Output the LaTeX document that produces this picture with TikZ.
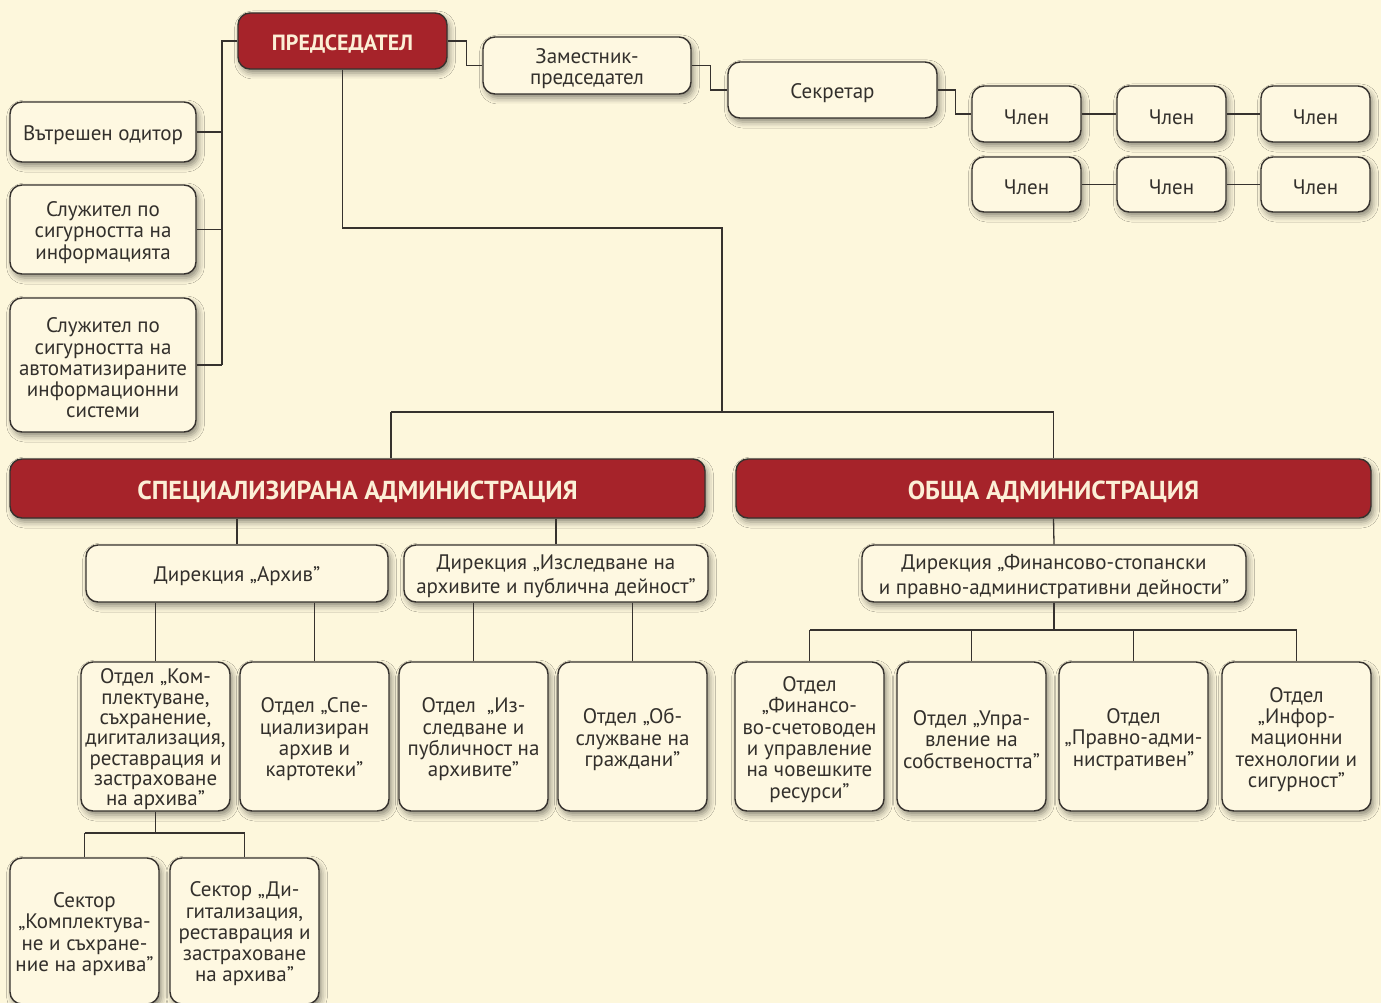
\documentclass[tikz,border=0pt]{standalone}
\usepackage{fontspec}
\setmainfont{PT Sans}
\usetikzlibrary{shadows.blur,calc}
\definecolor{bg}{HTML}{FDF7DC}
\definecolor{boxfill}{HTML}{FEF8E1}
\definecolor{redbox}{HTML}{A6232A}
\definecolor{titletxt}{HTML}{FCEFD6}
\definecolor{ink}{HTML}{36322E}
\definecolor{txt}{HTML}{33302C}
% box drawn from its corners; its text set 3px lower than the centre
\newcommand{\mybox}[7]{%
  \node[#6, minimum width={#4-#2}, minimum height={#5-#3}] (#1) at ({(#2+#4)/2},{(#3+#5)/2}) {};
  \node[#6 text] (#1-t) at ([yshift=-3pt]#1.center) {#7};}
\begin{document}
\begin{tikzpicture}[x=1pt,y=-1pt,
  base/.style={rectangle, rounded corners=12pt, draw=ink, line width=1.4pt, inner sep=0pt,
    blur shadow={shadow xshift=2.5pt, shadow yshift=-4pt, shadow blur radius=6pt, shadow opacity=45}},
  plain/.style={base, fill=boxfill},
  tight/.style={plain},
  dir/.style={plain},
  redb/.style={base, fill=redbox},
  redp/.style={redb},
  plain text/.style={inner sep=0pt, align=center, text=txt, font=\fontsize{21}{21.3}\selectfont},
  tight text/.style={plain text, font=\fontsize{21}{20.3}\selectfont},
  dir text/.style={plain text, font=\fontsize{21}{24.5}\selectfont},
  redb text/.style={inner sep=0pt, align=center, text=titletxt, font=\bfseries\fontsize{26}{27}\selectfont},
  redp text/.style={redb text, font=\bfseries\fontsize{22}{24}\selectfont},
  conn/.style={draw=ink, line width=1.3pt}]
\useasboundingbox (0,0) rectangle (1381,1003);
\fill[bg] (0,0) rectangle (1381,1003);
\clip (0,0) rectangle (1381,1003);

% top row
\mybox{pred}{238}{13}{447}{69}{redp}{ПРЕДСЕДАТЕЛ}
\mybox{zam}{483}{37}{691}{94}{plain}{Заместник-\\председател}
\mybox{sek}{728}{62}{937}{118}{plain}{Секретар}
\mybox{c1}{972}{86}{1081}{142}{plain}{Член}
\mybox{c2}{1117}{86}{1226}{142}{plain}{Член}
\mybox{c3}{1261}{86}{1370}{142}{plain}{Член}
\mybox{c4}{972}{157}{1081}{212}{plain}{Член}
\mybox{c5}{1117}{157}{1226}{212}{plain}{Член}
\mybox{c6}{1261}{157}{1370}{212}{plain}{Член}

% left column
\mybox{aud}{10}{102}{196}{162}{plain}{Вътрешен одитор}
\mybox{inf}{10}{185}{196}{274}{plain}{Служител по\\сигурността на\\информацията}
\mybox{ais}{10}{298}{196}{432}{plain}{Служител по\\сигурността на\\автоматизираните\\информационни\\системи}

% administrations
\mybox{spec}{10}{459}{705}{518}{redb}{СПЕЦИАЛИЗИРАНА АДМИНИСТРАЦИЯ}
\mybox{obsh}{736}{459}{1371}{518}{redb}{ОБЩА АДМИНИСТРАЦИЯ}

% directorates
\mybox{arh}{86}{545}{388}{602}{dir}{Дирекция „Архив”}
\mybox{izs}{404}{545}{708}{602}{dir}{Дирекция „Изследване на\\архивите и публична дейност”}
\mybox{fin}{862}{545}{1246}{602}{dir}{Дирекция „Финансово-стопански\\и правно-административни дейности”}

% departments
\mybox{o1}{81}{662}{230}{811}{tight}{Отдел „Ком-\\плектуване,\\съхранение,\\дигитализация,\\реставрация и\\застраховане\\на архива”}
\mybox{o2}{240}{662}{389}{811}{plain}{Отдел „Спе-\\циализиран\\архив и\\картотеки”}
\mybox{o3}{399}{662}{548}{811}{plain}{Отдел \ „Из-\\следване и\\публичност на\\архивите”}
\mybox{o4}{558}{662}{707}{811}{plain}{Отдел „Об-\\служване на\\граждани”}
\mybox{o5}{735}{662}{884}{811}{plain}{Отдел\\„Финансо-\\во-счетоводен\\и управление\\на човешките\\ресурси”}
\mybox{o6}{897}{662}{1046}{811}{plain}{Отдел „Упра-\\вление на\\собствеността”}
\mybox{o7}{1059}{662}{1208}{811}{plain}{Отдел\\„Правно-адми-\\нистративен”}
\mybox{o8}{1222}{662}{1371}{811}{plain}{Отдел\\„Инфор-\\мационни\\технологии и\\сигурност”}

% sectors (cut by the lower edge)
\mybox{s1}{10}{858}{159}{1004}{plain}{Сектор\\„Комплектува-\\не и съхране-\\ние на архива”}
\mybox{s2}{170}{858}{319}{1004}{plain}{Сектор „Ди-\\гитализация,\\реставрация и\\застраховане\\на архива”}

% junction coordinates
\coordinate (lb) at (222,0);
\coordinate (j0) at (722,228);
\coordinate (j1) at (722,412);
\coordinate (sd) at (391,412);
\coordinate (fb) at (0,630);
\coordinate (sb) at (0,833);

% connectors
\draw[conn] (pred.west) -- (pred.west -| lb) -- (ais.east -| lb);
\draw[conn] (aud.east) -- (aud.east -| lb);
\draw[conn] (inf.east) -- (inf.east -| lb);
\draw[conn] (ais.east) -- (ais.east -| lb);

\draw[conn] (pred.east) -- ++(19,0) |- (zam.west);
\draw[conn] (zam.east) -- ++(19,0) |- (sek.west);
\draw[conn] (sek.east) -- ++(18,0) |- (c1.west);
\draw[conn] (c1.east) -- (c2.west);
\draw[conn] (c2.east) -- (c3.west);
\draw[conn] (c4.east) -- (c5.west);
\draw[conn] (c5.east) -- (c6.west);

\draw[conn] (pred.south) |- (j0) -- (j1);
\draw[conn] (sd) -- (j1 -| obsh.north) -- (obsh.north);
\draw[conn] (sd) -- (sd |- spec.north);

\draw[conn] (spec.south -| arh.north) -- (arh.north);
\draw[conn] (spec.south -| izs.north) -- (izs.north);
\draw[conn] (obsh.south) -- (fin.north);

\draw[conn] (arh.south -| o1.north) -- (o1.north);
\draw[conn] (arh.south -| o2.north) -- (o2.north);
\draw[conn] (izs.south -| o3.north) -- (o3.north);
\draw[conn] (izs.south -| o4.north) -- (o4.north);

\draw[conn] (fin.south) -- (fin.south |- fb);
\draw[conn] (fb -| o5.north) -- (fb -| o8.north);
\draw[conn] (fb -| o5.north) -- (o5.north);
\draw[conn] (fb -| o6.north) -- (o6.north);
\draw[conn] (fb -| o7.north) -- (o7.north);
\draw[conn] (fb -| o8.north) -- (o8.north);

\draw[conn] (o1.south) -- (o1.south |- sb);
\draw[conn] (sb -| s1.north) -- (sb -| s2.north);
\draw[conn] (sb -| s1.north) -- (s1.north);
\draw[conn] (sb -| s2.north) -- (s2.north);
\end{tikzpicture}
\end{document}
